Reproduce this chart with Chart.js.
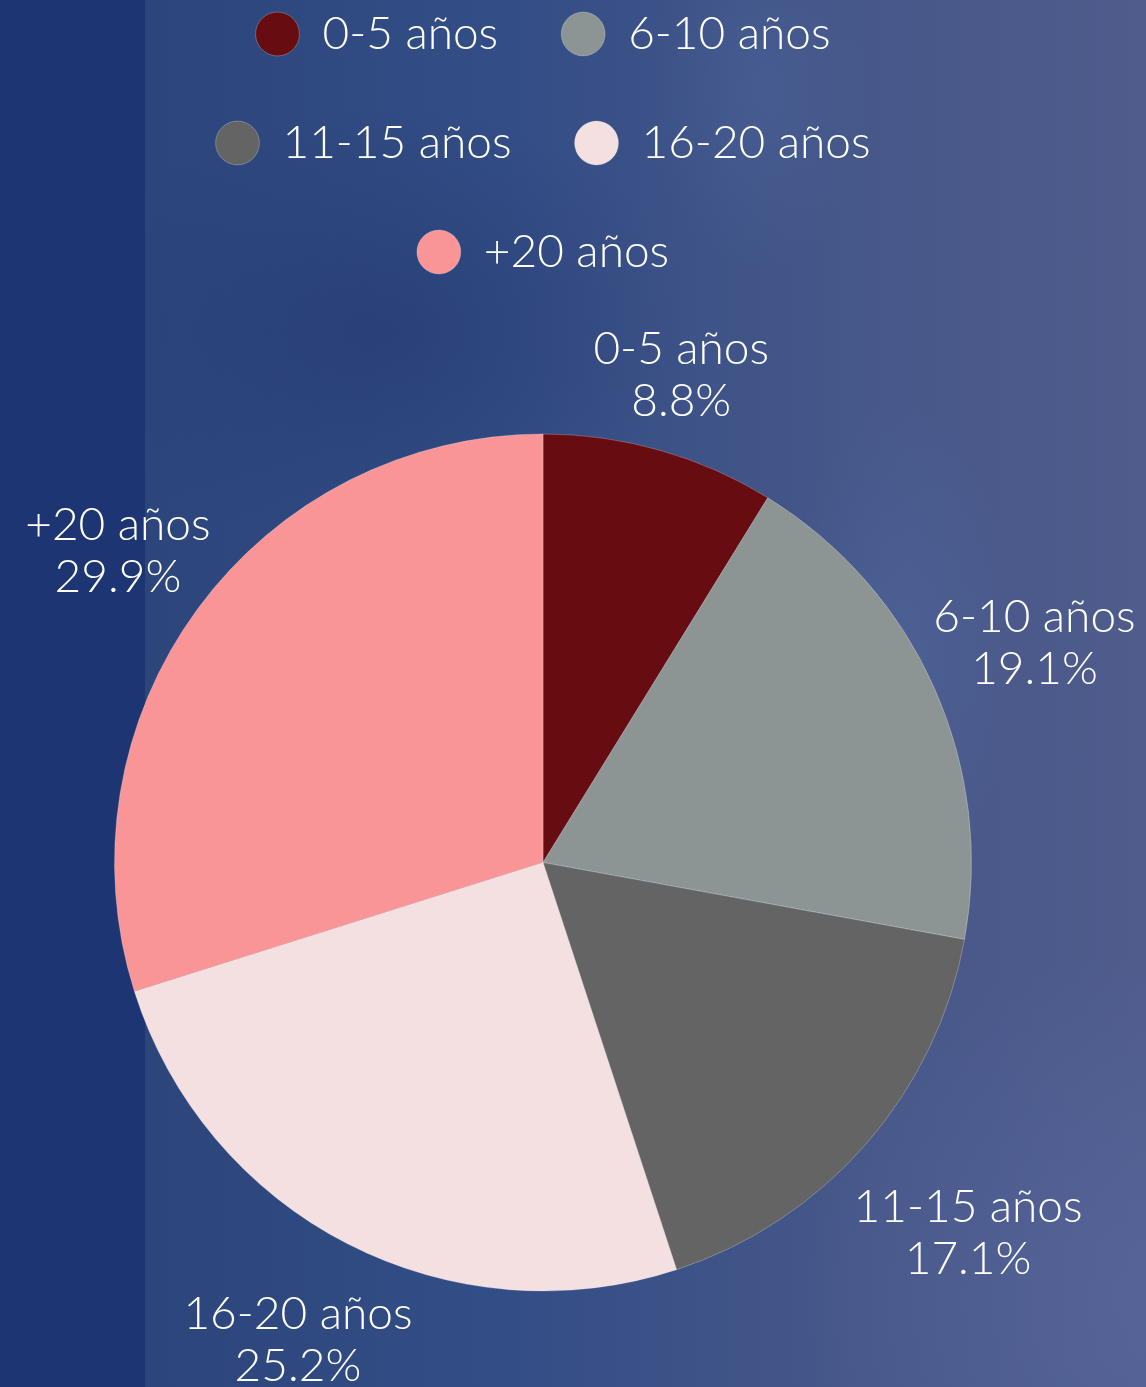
<!DOCTYPE html>
<html>
<head>
<meta charset="utf-8">
<script src="https://cdn.jsdelivr.net/npm/chart.js@4/dist/chart.umd.min.js"></script>
<style>
html,body{margin:0;padding:0;width:1146px;height:1387px;overflow:hidden;}
body{
  position:relative;
  background:
    linear-gradient(90deg,#1d3572 0,#1d3572 145px,transparent 145px),
    radial-gradient(ellipse 160px 260px at 760px 90px,rgba(80,105,160,.35),transparent 70%),
    radial-gradient(ellipse 160px 360px at 900px 650px,rgba(85,115,175,.3),transparent 70%),
    radial-gradient(ellipse 420px 300px at 380px 330px,rgba(30,50,100,.4),transparent 75%),
    radial-gradient(ellipse 500px 500px at 1146px 1300px,rgba(90,105,160,.6),transparent 70%),
    linear-gradient(90deg,#2c467c 145px,#334d86 500px,#465789 850px,#4f5c8c 1146px);
}
#wrap{position:absolute;left:0;top:-52px;width:1146px;height:1492px;}
</style>
</head>
<body>
<div id="wrap"><canvas id="pieChart"></canvas></div>
<script>
const categories=['0-5 años','6-10 años','11-15 años','16-20 años','+20 años'];
const shares=[8.8,19.1,17.1,25.2,29.9];
const colors=['#670c11','#8c9494','#646465','#f4e0e0','#f99597'];
// label distance from pie centre, per slice (layout only)
const labelDist=[507,538,564,537,527];

const FONT="Lato, 'Open Sans', sans-serif";

const outsideLabels={
  id:'outsideLabels',
  afterDatasetsDraw(chart){
    const ctx=chart.ctx;
    const meta=chart.getDatasetMeta(0);
    ctx.save();
    ctx.fillStyle='#ffffff';
    ctx.font=`300 46px ${FONT}`;
    ctx.textAlign='center';
    ctx.textBaseline='middle';
    meta.data.forEach((arc,i)=>{
      const p=arc.getProps(['x','y','startAngle','endAngle'],true);
      const mid=(p.startAngle+p.endAngle)/2;
      const cx=p.x+Math.cos(mid)*labelDist[i];
      const cy=p.y+Math.sin(mid)*labelDist[i];
      ctx.fillText(categories[i],cx,cy-26);
      ctx.fillText(shares[i].toFixed(1)+'%',cx,cy+26);
    });
    ctx.restore();
  }
};

new Chart(document.getElementById('pieChart'),{
  type:'pie',
  data:{labels:categories,datasets:[{data:shares,backgroundColor:colors,borderWidth:1,borderColor:'rgba(255,255,255,0.25)'}]},
  options:{
    responsive:true,
    maintainAspectRatio:false,
    animation:false,
    layout:{padding:{left:114,right:174,top:0,bottom:0}},
    plugins:{
      tooltip:{enabled:false},
      legend:{
        position:'top',
        labels:{
          usePointStyle:true,
          pointStyle:'circle',
          boxWidth:44,
          boxHeight:31,
          padding:63,
          color:'#ffffff',
          font:{family:FONT,size:46,weight:'300'}
        }
      }
    }
  },
  plugins:[outsideLabels]
});
</script>
</body>
</html>
